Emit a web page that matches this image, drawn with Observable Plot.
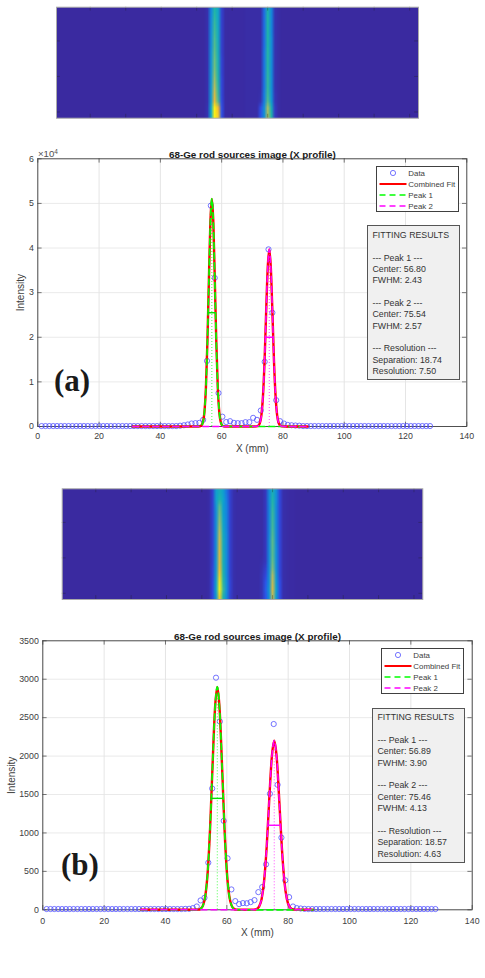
<!DOCTYPE html>
<html>
<head>
<meta charset="utf-8">
<script src="https://cdn.jsdelivr.net/npm/d3@7"></script>
<script src="https://cdn.jsdelivr.net/npm/@observablehq/plot@0.6"></script>
<style>
html,body{margin:0;padding:0;background:#fff}
#root{position:relative;width:485px;height:978px;overflow:hidden;font-family:"Liberation Sans",sans-serif}
.layer{position:absolute;left:0}
.layer svg{display:block}
.fit{position:absolute;box-sizing:border-box;background:#f0f0f0;border:1px solid #555;color:#333;font-size:8.8px;line-height:11.35px;padding:3.7px 0 0 4.2px;white-space:pre}
.legend{position:absolute;box-sizing:border-box;background:#fff;border:1px solid #404040;color:#404040;font-size:7.9px}
.legend span{position:absolute;left:31px;line-height:11px;white-space:pre}
.legend svg{position:absolute;left:0;top:0}
.tag{position:absolute;font-family:"Liberation Serif",serif;font-weight:bold;font-size:31px;line-height:36px;color:#1a1a1a}
.exp{position:absolute;font-size:9.6px;color:#505050}
.exp sup{font-size:6.5px;line-height:0;vertical-align:3.5px}
</style>
</head>
<body>
<div id="root"></div>
<script>
// ---- Profile sample positions (mm)
const profileX = [1.25,2.51,3.76,5.02,6.27,7.53,8.78,10.04,11.29,12.55,13.8,15.06,16.31,17.57,18.82,20.08,21.33,22.59,23.84,25.1,
 26.35,27.61,28.86,30.12,31.37,32.63,33.88,35.14,36.39,37.65,38.9,40.16,41.41,42.67,43.92,45.18,46.43,47.69,48.94,50.2,
 51.45,52.71,53.96,55.22,56.47,57.73,58.98,60.24,61.49,62.75,64,65.25,66.51,67.76,69.02,70.27,71.53,72.78,74.04,75.29,
 76.55,77.8,79.06,80.31,81.57,82.82,84.08,85.33,86.59,87.84,89.1,90.35,91.61,92.86,94.12,95.37,96.63,97.88,99.14,100.39,
 101.65,102.9,104.16,105.41,106.67,107.92,109.18,110.43,111.69,112.94,114.2,115.45,116.71,117.96,119.22,120.47,121.73,122.98,124.24,125.49,
 126.75,128];

// ---- Panel (a) values
const dataA = [100,100,100,100,100,100,100,100,100,100,100,100,100,100,100,100,100,100,100,100,
 100,100,100,100,100,100,100,100,100,100,100,100,100,100,100,100,180,280,450,670,
 750,820,1490,14700,49500,33300,7500,2200,1000,1190,820,745,745,970,970,1940,1490,3580,14500,39700,
 25500,5900,1190,670,350,280,220,180,100,100,100,100,100,100,100,100,100,100,100,100,
 100,100,100,100,100,100,100,100,100,100,100,100,100,100,100,100,100,100,100,100,
 100,100];
const peak1XA = [31,51.94,52.91,53.4,53.88,54.37,54.86,55.34,55.83,56.31,56.8,57.29,57.77,58.26,58.74,59.23,59.72,60.2,60.69,61.66,88];
const peak1YA = [0,1,42,219,949,3188,8670,18768,32742,45645,51000,45645,32742,18768,8670,3188,949,219,42,1,0];
const peak2XA = [31,70.4,71.43,71.94,72.46,72.97,73.48,74,74.51,75.03,75.54,76.05,76.57,77.08,77.6,78.11,78.62,79.14,79.65,80.68,88];
const peak2YA = [0,1,33,171,738,2481,6749,14610,25487,35532,39700,35532,25487,14610,6749,2481,738,171,33,1,0];
const summaryA = {c1:56.80,w1:2.43,h1:25500,a1:51000,c2:75.54,w2:2.57,h2:20000,a2:39700};
const textA = ["FITTING RESULTS","","--- Peak 1 ---","Center: 56.80","FWHM: 2.43","","--- Peak 2 ---","Center: 75.54","FWHM: 2.57","","--- Resolution ---","Separation: 18.74","Resolution: 7.50"];

// ---- Panel (b) values
const dataB = [10,10,10,10,10,10,10,10,10,10,10,10,10,10,10,10,10,10,10,10,
 10,10,10,10,10,10,10,10,10,10,10,10,10,10,10,10,12,13,22,43,
 122,156,613,1578,3020,2450,1157,670,265,113,74,87,85,100,126,230,296,591,1509,2417,
 1626,939,383,165,43,22,17,12,10,10,10,10,10,10,10,10,10,10,10,10,
 10,10,10,10,10,10,10,10,10,10,10,10,10,10,10,10,10,10,10,10,
 10,10];
const peak1XB = [32,49.09,50.65,51.43,52.21,52.99,53.77,54.55,55.33,56.11,56.89,57.67,58.45,59.23,60.01,60.79,61.57,62.35,63.13,64.69,88];
const peak1YB = [0,0,2,12,54,181,493,1067,1862,2596,2900,2596,1862,1067,493,181,54,12,2,0,0];
const peak2XB = [32,67.2,68.85,69.68,70.5,71.33,72.15,72.98,73.8,74.63,75.46,76.29,77.11,77.94,78.76,79.59,80.41,81.24,82.07,83.72,88];
const peak2YB = [0,0,2,9,41,138,374,810,1412,1969,2200,1969,1412,810,374,138,41,9,2,0,0];
const summaryB = {c1:56.89,w1:3.90,h1:1450,a1:2900,c2:75.46,w2:4.13,h2:1100,a2:2200};
const textB = ["FITTING RESULTS","","--- Peak 1 ---","Center: 56.89","FWHM: 3.90","","--- Peak 2 ---","Center: 75.46","FWHM: 4.13","","--- Resolution ---","Separation: 18.57","Resolution: 4.63"];

// ---- Axis ticks
const xTicks = [0,20,40,60,80,100,120,140];
const yTicksA = [0,10000,20000,30000,40000,50000,60000];
const yTicksB = [0,500,1000,1500,2000,2500,3000,3500];
const heatXTicks = [9.5,19.5,29.5,39.5,49.5,59.5,69.5,79.5,89.5,99.5];
const heatYTicks = [9.5,19.5,29.5];
const legendLabels = ["Data","Combined Fit","Peak 1","Peak 2"];
const chartTitle = "68-Ge rod sources image (X profile)";

// ---- Heat images: columns (1-based) and rows top to bottom, blurred by upscaling
const heatColsA = [43,44,45,46,47,58,59,60,61,62];
const heatRowsA = [
 [.02,.26,.50,.40,.08,.01,.20,.48,.28,.03],
 [.02,.27,.52,.40,.08,.01,.20,.50,.28,.03],
 [.02,.27,.54,.40,.08,.01,.20,.50,.28,.03],
 [.02,.28,.55,.42,.08,.01,.20,.50,.28,.03],
 [.02,.28,.57,.42,.08,.01,.20,.50,.30,.03],
 [.02,.28,.58,.44,.08,.01,.20,.50,.30,.03],
 [.02,.30,.60,.44,.08,.01,.22,.51,.30,.03],
 [.02,.30,.62,.46,.09,.01,.22,.51,.30,.03],
 [.02,.30,.63,.47,.09,.01,.22,.51,.30,.03],
 [.02,.31,.66,.48,.09,.01,.22,.52,.30,.03],
 [.02,.31,.70,.50,.10,.01,.22,.53,.31,.03],
 [.02,.32,.74,.52,.10,.01,.22,.53,.31,.03],
 [.02,.33,.80,.54,.10,.02,.24,.55,.32,.04],
 [.02,.33,.85,.58,.11,.03,.24,.58,.34,.04],
 [.03,.38,1.0,.88,.13,.12,.30,.72,.45,.06],
 [.03,.38,1.0,.92,.13,.14,.30,.72,.50,.06]
];
const valleyColsA = [48,49,50,51,52,53,54,55,56,57,63];
const valleyA = [.01,.005,.005,.005,.005,.005,.01,.01,.01,.01,.01];

const heatColsB = [42,43,44,45,46,47,48,49,57,58,59,60,61,62,63];
const heatRowsB = [
 [.01,.08,.36,.44,.36,.22,.08,.02,.01,.05,.28,.46,.30,.10,.02],
 [.01,.08,.36,.50,.38,.24,.08,.02,.01,.05,.28,.50,.30,.10,.02],
 [.01,.08,.32,.60,.36,.26,.08,.02,.01,.05,.26,.52,.28,.10,.02],
 [.01,.08,.30,.64,.36,.26,.08,.02,.01,.05,.26,.54,.28,.10,.02],
 [.01,.08,.30,.68,.38,.26,.08,.02,.01,.05,.26,.55,.28,.10,.02],
 [.01,.08,.30,.72,.40,.26,.08,.02,.01,.05,.26,.56,.28,.10,.02],
 [.01,.08,.30,.76,.42,.28,.08,.02,.01,.05,.26,.58,.28,.10,.02],
 [.01,.08,.30,.80,.44,.28,.08,.02,.01,.05,.28,.60,.28,.10,.02],
 [.01,.08,.30,.82,.44,.28,.08,.02,.01,.05,.28,.60,.30,.10,.02],
 [.01,.08,.30,.84,.46,.28,.08,.02,.01,.05,.28,.60,.30,.10,.02],
 [.01,.08,.32,.84,.46,.28,.08,.02,.02,.05,.28,.62,.30,.10,.02],
 [.01,.09,.32,.88,.48,.28,.08,.02,.03,.08,.28,.66,.30,.10,.02],
 [.01,.09,.34,.92,.50,.28,.08,.02,.04,.10,.30,.74,.32,.10,.02],
 [.01,.10,.36,.98,.52,.30,.09,.02,.04,.14,.30,.78,.34,.12,.02],
 [.01,.10,.38,1.0,.55,.30,.09,.02,.04,.16,.32,.82,.36,.12,.02],
 [.01,.10,.34,.92,.50,.28,.08,.02,.04,.14,.30,.76,.34,.12,.02]
];
const valleyColsB = [50,51,52,53,54,55,56,64,65,66];
const valleyB = [.01,.01,.01,.01,.01,.01,.01,.01,.005,.005];

const parula = ["#3a2aa0","#2f4ee8","#1680e0","#0ea5cc","#21b5a8","#6cbf80","#b9bd5c","#f2b830","#f9ef18"];
const parulaFn = d3.piecewise(d3.interpolateRgb, parula);
const axisColor = "#404040";
const fontStyle = {fontFamily:'"Liberation Sans",sans-serif',fontSize:"8.8px",color:axisColor,background:"transparent",overflow:"visible"};

const root = document.getElementById("root");
function place(node, top){
  const d = document.createElement("div");
  d.className = "layer"; d.style.top = top + "px";
  d.appendChild(node); root.appendChild(d);
}

function heat(cfg){
  const W = profileX.length, H = cfg.rows.length, rowSpan = 31.25;
  const values = new Array(W*H).fill(0);
  cfg.rows.forEach((row,r)=>{
    cfg.valleyCols.forEach((c,i)=>{values[r*W+c-1]=cfg.valley[i];});
    cfg.cols.forEach((c,i)=>{values[r*W+c-1]=row[i];});
  });
  const tl = 1.1;
  const p = Plot.plot({
    width:485,height:cfg.height,marginTop:cfg.mt,marginBottom:cfg.mb,marginLeft:cfg.ml,marginRight:cfg.mr,
    style:fontStyle,
    x:{domain:[0,W],axis:null},
    y:{domain:[0,rowSpan],reverse:true,axis:null},
    color:{type:"linear",domain:[0,1],interpolate:t=>parulaFn(t)},
    marks:[
      Plot.raster(values,{width:W,height:H,x1:0,x2:W,y1:0,y2:rowSpan,imageRendering:"auto"}),
      Plot.ruleX(heatXTicks,{y1:0,y2:tl,stroke:"#222",strokeOpacity:.5,strokeWidth:.7}),
      Plot.ruleX(heatXTicks,{y1:rowSpan-tl,y2:rowSpan,stroke:"#222",strokeOpacity:.5,strokeWidth:.7}),
      Plot.ruleY(heatYTicks,{x1:0,x2:tl,stroke:"#222",strokeOpacity:.5,strokeWidth:.7}),
      Plot.ruleY(heatYTicks,{x1:W-tl,x2:W,stroke:"#222",strokeOpacity:.5,strokeWidth:.7}),
      Plot.frame({stroke:"#aaa",strokeWidth:1})
    ]
  });
  place(p,cfg.top);
}

function chart(cfg){
  const xMax = 140, yMax = cfg.yTicks[cfg.yTicks.length-1];
  const innerW = 485-cfg.ml-cfg.mr, innerH = cfg.height-cfg.mt-cfg.mb;
  const tx = 4.3/innerW*xMax, ty = 4.3/innerH*yMax;
  const points = profileX.map((x,i)=>({x,y:cfg.data[i]}));
  const line = (xs,ys)=>xs.map((x,i)=>({x,y:ys[i]}));
  const p1 = line(cfg.p1x,cfg.p1y), p2 = line(cfg.p2x,cfg.p2y);
  const combined = [...p1.slice(0,-1),...p2.slice(1)];
  const s = cfg.summary;
  const p = Plot.plot({
    width:485,height:cfg.height,marginTop:cfg.mt,marginBottom:cfg.mb,marginLeft:cfg.ml,marginRight:cfg.mr,
    style:fontStyle,
    x:{domain:[0,xMax],axis:null},
    y:{domain:[0,yMax],axis:null},
    marks:[
      Plot.ruleX(xTicks,{stroke:"#dedede",strokeWidth:.8}),
      Plot.ruleY(cfg.yTicks,{stroke:"#e4e4e4",strokeWidth:.8}),
      Plot.ruleX(xTicks,{y1:0,y2:ty,stroke:axisColor,strokeWidth:.7}),
      Plot.ruleX(xTicks,{y1:yMax-ty,y2:yMax,stroke:axisColor,strokeWidth:.7}),
      Plot.ruleY(cfg.yTicks,{x1:0,x2:tx,stroke:axisColor,strokeWidth:.7}),
      Plot.ruleY(cfg.yTicks,{x1:xMax-tx,x2:xMax,stroke:axisColor,strokeWidth:.7}),
      Plot.frame({stroke:axisColor,strokeWidth:.9}),
      Plot.dot(points,{x:"x",y:"y",r:2.6,stroke:"#5252ff",strokeWidth:.8,fill:"none"}),
      Plot.line(combined,{x:"x",y:"y",stroke:"#ff0000",strokeWidth:2.4,curve:"monotone-x"}),
      Plot.line(p1,{x:"x",y:"y",stroke:"#00ff00",strokeWidth:1.7,strokeDasharray:"6,4",curve:"monotone-x"}),
      Plot.line(p2,{x:"x",y:"y",stroke:"#ff00ff",strokeWidth:1.5,strokeDasharray:"6,4",curve:"monotone-x"}),
      Plot.ruleX([s.c1],{y1:0,y2:s.a1,stroke:"#00ff00",strokeWidth:.7,strokeDasharray:"1,2"}),
      Plot.ruleX([s.c2],{y1:0,y2:s.a2,stroke:"#ff00ff",strokeWidth:.7,strokeDasharray:"1,2"}),
      Plot.ruleY([s.h1],{x1:s.c1-s.w1/2,x2:s.c1+s.w1/2,stroke:"#00e000",strokeWidth:1.4}),
      Plot.ruleY([s.h2],{x1:s.c2-s.w2/2,x2:s.c2+s.w2/2,stroke:"#ff00ff",strokeWidth:1.4}),
      Plot.axisX({ticks:xTicks,tickSize:0,tickPadding:cfg.xPad,label:null,stroke:"none"}),
      Plot.axisY({ticks:cfg.yTicks,tickSize:0,tickPadding:4,label:null,stroke:"none",tickFormat:cfg.yFormat}),
      Plot.text([chartTitle],{frameAnchor:"top",dy:-7.5,fontWeight:"bold",fontSize:9.9,fill:"#1a1a1a"}),
      Plot.text(["X (mm)"],{frameAnchor:"bottom",dy:cfg.xLabelDy,fontSize:10,fill:axisColor}),
      Plot.text(["Intensity"],{frameAnchor:"left",dx:cfg.yLabelDx,rotate:-90,textAnchor:"middle",fontSize:10,fill:axisColor})
    ]
  });
  place(p,cfg.top);
}

function overlays(o){
  // legend
  const lg = document.createElement("div");
  lg.className = "legend";
  Object.assign(lg.style,{left:o.lgX+"px",top:o.lgY+"px",width:"82.4px",height:"46px"});
  const ns = "http://www.w3.org/2000/svg";
  const sv = document.createElementNS(ns,"svg");
  sv.setAttribute("width",32); sv.setAttribute("height",46);
  const rowsY = [6,17,28,39];
  const c = document.createElementNS(ns,"circle");
  c.setAttribute("cx",16);c.setAttribute("cy",rowsY[0]);c.setAttribute("r",2.6);
  c.setAttribute("fill","none");c.setAttribute("stroke","#5252ff");c.setAttribute("stroke-width",.8);
  sv.appendChild(c);
  [["#ff0000",null,1],["#00ff00","6,4",2],["#ff00ff","6,4",3]].forEach(([col,dash,i])=>{
    const l = document.createElementNS(ns,"line");
    l.setAttribute("x1",2.5);l.setAttribute("x2",29.5);
    l.setAttribute("y1",rowsY[i]);l.setAttribute("y2",rowsY[i]);
    l.setAttribute("stroke",col);l.setAttribute("stroke-width",dash?1.5:2);
    if(dash) l.setAttribute("stroke-dasharray",dash);
    sv.appendChild(l);
  });
  lg.appendChild(sv);
  legendLabels.forEach((t,i)=>{
    const s = document.createElement("span");
    s.textContent = t; s.style.top = (rowsY[i]-5.5)+"px";
    lg.appendChild(s);
  });
  root.appendChild(lg);
  // fitting results
  const f = document.createElement("div");
  f.className = "fit"; f.textContent = o.text.join("\n");
  Object.assign(f.style,{left:o.fitX+"px",top:o.fitY+"px",width:"93px",height:o.fitH+"px"});
  root.appendChild(f);
  // panel tag
  const tg = document.createElement("div");
  tg.className = "tag"; tg.textContent = o.tag;
  Object.assign(tg.style,{left:o.tagX+"px",top:o.tagY+"px"});
  root.appendChild(tg);
}

heat({top:0,height:125,mt:6.7,mb:7.3,ml:56,mr:67,rows:heatRowsA,cols:heatColsA,valley:valleyA,valleyCols:valleyColsA});
chart({top:140,height:310,mt:18.3,mb:24,ml:37.3,mr:18.7,data:dataA,p1x:peak1XA,p1y:peak1YA,p2x:peak2XA,p2y:peak2YA,summary:summaryA,
  yTicks:yTicksA,yFormat:d=>d/10000,xLabelDy:25,yLabelDx:-17,xPad:6.5});
overlays({lgX:376.3,lgY:166.3,fitX:367.3,fitY:225.3,fitH:154.7,text:textA,tag:"(a)",tagX:54,tagY:363});
const exp = document.createElement("div");
exp.className = "exp"; exp.innerHTML = "×10<sup>4</sup>";
Object.assign(exp.style,{left:"38px",top:"148px"});
root.appendChild(exp);

heat({top:484,height:120,mt:4.3,mb:5,ml:61.7,mr:62.7,rows:heatRowsB,cols:heatColsB,valley:valleyB,valleyCols:valleyColsB});
chart({top:625,height:315,mt:15.3,mb:30.7,ml:42.3,mr:13.3,data:dataB,p1x:peak1XB,p1y:peak1YB,p2x:peak2XB,p2y:peak2YB,summary:summaryB,
  yTicks:yTicksB,yFormat:d=>String(d),xLabelDy:26,yLabelDx:-31,xPad:8});
overlays({lgX:381.3,lgY:648.3,fitX:372.3,fitY:707.7,fitH:155.6,text:textB,tag:"(b)",tagX:61,tagY:847});
</script>
</body>
</html>
